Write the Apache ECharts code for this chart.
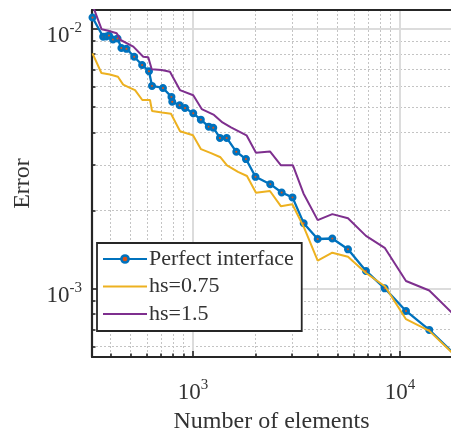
<!DOCTYPE html>
<html>
<head>
<meta charset="utf-8">
<script src="https://cdn.jsdelivr.net/npm/echarts@6/dist/echarts.min.js"></script>
<style>
html,body{margin:0;padding:0;background:#fff;}
#chart{width:451px;height:432px;}
</style>
</head>
<body>
<div id="chart"></div>
<script>
// ---- data ----
const seriesNames = ['Perfect interface', 'hs=0.75', 'hs=1.5'];

const perfectX = [327, 368, 381, 393, 411, 432, 451, 477, 520, 568, 613, 634, 716, 787, 794, 862, 915, 1003, 1091, 1192, 1253, 1350, 1455, 1619, 1803, 2004, 2362, 2682, 3025, 3426, 4003, 4710, 5608, 6850, 8435, 10690, 13850, 18440];
const perfectY = [0.01107, 0.00934, 0.00936, 0.00944, 0.00911, 0.00919, 0.00845, 0.00839, 0.00782, 0.00727, 0.00688, 0.00604, 0.00593, 0.00548, 0.00525, 0.00509, 0.00497, 0.00474, 0.00448, 0.00421, 0.00417, 0.00381, 0.00381, 0.00337, 0.00316, 0.00270, 0.00253, 0.00235, 0.00225, 0.00179, 0.001557, 0.001564, 0.001421, 0.001173, 0.001006, 0.000823, 0.000696, 0.000558];

const hs075X = [327, 361, 397, 434, 460, 496, 525, 569, 620, 634, 708, 783, 866, 1000, 1093, 1222, 1358, 1460, 1650, 1823, 2015, 2354, 2661, 3018, 3429, 4003, 4710, 5608, 6850, 8480, 10690, 13850, 18440];
const hs075Y = [0.00806, 0.00677, 0.00668, 0.00655, 0.00611, 0.00594, 0.00582, 0.00533, 0.00533, 0.00484, 0.00477, 0.00472, 0.00404, 0.00390, 0.00345, 0.00333, 0.00321, 0.00299, 0.00282, 0.00272, 0.002346, 0.002381, 0.002079, 0.002117, 0.001732, 0.001285, 0.001379, 0.001331, 0.001152, 0.001022, 0.000765, 0.000690, 0.000555];

const hs15X = [327, 362, 390, 428, 447, 515, 575, 608, 632, 706, 774, 865, 1003, 1102, 1263, 1388, 1526, 1814, 2015, 2354, 2661, 3040, 3418, 4003, 4710, 5608, 6850, 8435, 10690, 13850, 18440];
const hs15Y = [0.01237, 0.00997, 0.00985, 0.00963, 0.00907, 0.00855, 0.00782, 0.00778, 0.00700, 0.00696, 0.00685, 0.00582, 0.00556, 0.00492, 0.00467, 0.00437, 0.00418, 0.00390, 0.00334, 0.00338, 0.00299, 0.00299, 0.00233, 0.00184, 0.00194, 0.00187, 0.00160, 0.00144, 0.001073, 0.000987, 0.000788];

const xMajorTicks = [1000, 10000];
const xMinorTicks = [400, 500, 600, 700, 800, 900, 2000, 3000, 4000, 5000, 6000, 7000, 8000, 9000];
const yMajorTicks = [0.001, 0.01];
const yMinorTicks = [0.0006, 0.0007, 0.0008, 0.0009, 0.002, 0.003, 0.004, 0.005, 0.006, 0.007, 0.008, 0.009];

const xRange = [325.2, 17636];
const yRange = [0.0005475, 0.01183];

// ---- chart ----
const FONT = '"Liberation Serif", "DejaVu Serif", serif';
const TXT = '#333333';
const AX = '#262626';

function pair(xs, ys) { return xs.map((x, i) => [x, ys[i]]); }
function powLabel(v) {
  const e = Math.round(Math.log10(v));
  return '{b|10}{s|' + (e < 0 ? '-' : '') + Math.abs(e) + '}';
}
const rich = {
  b: { fontFamily: FONT, fontSize: 23, color: TXT, lineHeight: 26, verticalAlign: 'bottom' },
  s: { fontFamily: FONT, fontSize: 15, color: TXT, lineHeight: 15, verticalAlign: 'top' }
};
const hiddenSymbol = { color: 'rgba(0,0,0,0)', borderColor: 'rgba(0,0,0,0)', borderWidth: 0 };

const chart = echarts.init(document.getElementById('chart'), null, { renderer: 'canvas' });

const xBase = { type: 'log', logBase: 10, min: xRange[0], max: xRange[1], gridIndex: 0 };
const yBase = { type: 'log', logBase: 10, min: yRange[0], max: yRange[1], gridIndex: 0 };

chart.setOption({
  animation: false,
  backgroundColor: '#ffffff',
  grid: { left: 92, right: 0, top: 10, bottom: 75, containLabel: false, outerBoundsMode: 'none' },
  legend: {
    orient: 'vertical',
    left: 97, top: 243,
    data: [
      { name: seriesNames[0] },
      { name: seriesNames[1], itemStyle: hiddenSymbol },
      { name: seriesNames[2], itemStyle: hiddenSymbol }
    ],
    backgroundColor: '#ffffff',
    borderColor: AX, borderWidth: 1.8, borderRadius: 0,
    padding: [5, 8, 6, 5],
    itemWidth: 44, itemHeight: 9, itemGap: 5.5,
    itemStyle: { borderWidth: 2.5 },
    textStyle: { fontFamily: FONT, fontSize: 22, color: TXT, padding: [0, 0, 0, -3] }
  },
  xAxis: [
    Object.assign({}, xBase, {
      position: 'bottom',
      name: 'Number of elements', nameLocation: 'middle', nameGap: 53,
      nameTextStyle: { fontFamily: FONT, fontSize: 24, color: TXT },
      axisLine: { show: true, lineStyle: { color: AX, width: 2.2 } },
      axisTick: { show: true, inside: true, length: 6, customValues: xMajorTicks, lineStyle: { color: AX, width: 1.6 } },
      axisLabel: { show: true, customValues: xMajorTicks, margin: 21, formatter: powLabel, rich: rich },
      splitLine: { show: true, lineStyle: { color: '#dcdcdc', width: 2 } }
    }),
    Object.assign({}, xBase, {
      position: 'bottom',
      axisLine: { show: false },
      axisTick: { show: true, inside: true, length: 3.5, customValues: xMinorTicks, lineStyle: { color: AX, width: 1.6 } },
      axisLabel: { show: false },
      splitLine: { show: true, lineStyle: { color: '#c4c4c4', width: 1, type: [2, 2] } }
    }),
    Object.assign({}, xBase, {
      position: 'top',
      axisLine: { show: true, lineStyle: { color: AX, width: 2.2 } },
      axisTick: { show: false }, axisLabel: { show: false }, splitLine: { show: false }
    })
  ],
  yAxis: [
    Object.assign({}, yBase, {
      position: 'left',
      name: 'Error', nameLocation: 'middle', nameGap: 57,
      nameTextStyle: { fontFamily: FONT, fontSize: 24, color: TXT },
      axisLine: { show: true, lineStyle: { color: AX, width: 2.2 } },
      axisTick: { show: true, inside: true, length: 6, customValues: yMajorTicks, lineStyle: { color: AX, width: 1.6 } },
      axisLabel: { show: true, customValues: yMajorTicks, margin: 10, formatter: powLabel, rich: rich, padding: [10, 0, 0, 0] },
      splitLine: { show: true, lineStyle: { color: '#dcdcdc', width: 2 } }
    }),
    Object.assign({}, yBase, {
      position: 'left',
      axisLine: { show: false },
      axisTick: { show: true, inside: true, length: 3.5, customValues: yMinorTicks, lineStyle: { color: AX, width: 1.6 } },
      axisLabel: { show: false },
      splitLine: { show: true, lineStyle: { color: '#c4c4c4', width: 1, type: [2, 2] } }
    })
  ],
  series: [
    {
      name: seriesNames[0], type: 'line', xAxisIndex: 0, yAxisIndex: 0,
      data: pair(perfectX, perfectY),
      symbol: 'circle', symbolSize: 5, showSymbol: true,
      lineStyle: { color: '#0072BD', width: 2.3 },
      itemStyle: { color: '#D95319', borderColor: '#0072BD', borderWidth: 3 },
      clip: true, z: 3
    },
    {
      name: seriesNames[1], type: 'line', xAxisIndex: 0, yAxisIndex: 0,
      data: pair(hs075X, hs075Y),
      symbol: 'none', showSymbol: false,
      lineStyle: { color: '#EDB120', width: 2 },
      itemStyle: { color: '#EDB120' },
      clip: true, z: 4
    },
    {
      name: seriesNames[2], type: 'line', xAxisIndex: 0, yAxisIndex: 0,
      data: pair(hs15X, hs15Y),
      symbol: 'none', showSymbol: false,
      lineStyle: { color: '#7E2F8E', width: 2 },
      itemStyle: { color: '#7E2F8E' },
      clip: true, z: 5
    }
  ]
});
</script>
</body>
</html>
